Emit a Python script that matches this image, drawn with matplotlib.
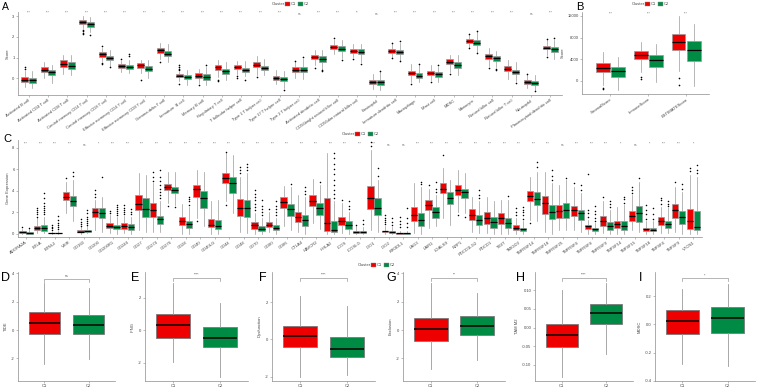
import matplotlib
matplotlib.use('Agg')
import matplotlib.pyplot as plt
from matplotlib.patches import Rectangle

plt.rcParams['font.family'] = ['Liberation Sans', 'DejaVu Sans']

# ---------------- DATA ----------------
groups = ['C1', 'C2']

a_cells = ['Activated B cell', 'Activated CD4 T cell', 'Activated CD8 T cell',
           'Central memory CD4 T cell', 'Central memory CD8 T cell',
           'Effector memeory CD4 T cell', 'Effector memeory CD8 T cell',
           'Gamma delta T cell', 'Immature  B cell', 'Memory B cell',
           'Regulatory T cell', 'T follicular helper cell', 'Type 1 T helper cell',
           'Type 17 T helper cell', 'Type 2 T helper cell', 'Activated dendritic cell',
           'CD56bright natural killer cell', 'CD56dim natural killer cell', 'Eosinophil',
           'Immature dendritic cell', 'Macrophage', 'Mast cell', 'MDSC', 'Monocyte',
           'Natural killer cell', 'Natural killer T cell', 'Neutrophil',
           'Plasmacytoid dendritic cell']
a_med1 = [-0.06, 0.42, 0.70, 2.73, 1.16, 0.59, 0.63, 1.35, 0.13, 0.13, 0.53, 0.55, 0.66, 0.03,
          0.42, 1.03, 1.51, 1.32, -0.19, 1.33, 0.24, 0.24, 0.80, 1.81, 1.06, 0.45, -0.18, 1.48]
a_q1_1 = [-0.18, 0.30, 0.55, 2.63, 1.03, 0.50, 0.51, 1.24, 0.06, 0.03, 0.42, 0.43, 0.55, -0.06,
          0.30, 0.93, 1.41, 1.22, -0.29, 1.24, 0.14, 0.14, 0.69, 1.72, 0.95, 0.34, -0.26, 1.40]
a_q3_1 = [0.06, 0.55, 0.87, 2.83, 1.27, 0.67, 0.72, 1.46, 0.21, 0.24, 0.63, 0.63, 0.79, 0.13,
          0.53, 1.14, 1.60, 1.41, -0.08, 1.43, 0.35, 0.35, 0.93, 1.89, 1.17, 0.59, -0.10, 1.57]
a_lo1 = [-0.42, 0.03, 0.22, 2.42, 0.85, 0.30, 0.26, 0.95, -0.13, -0.22, 0.06, 0.19, 0.14, -0.26,
         0.03, 0.63, 1.19, 1.03, -0.50, 1.03, -0.18, -0.10, 0.30, 1.51, 0.58, -0.02, -0.45, 1.11]
a_hi1 = [0.35, 0.77, 1.14, 3.03, 1.45, 0.83, 0.90, 1.70, 0.33, 0.47, 0.87, 0.82, 1.06, 0.42,
         0.79, 1.35, 1.86, 1.64, 0.19, 1.65, 0.67, 0.63, 1.11, 2.10, 1.46, 0.87, 0.14, 1.83]
a_fl1 = [[0.45, 0.55], [], [], [2.35, 2.28, 2.2, 2.15], [0.75, 0.68, 1.55], [0.95], [-0.06],
         [0.79], [0.40, 0.47, 0.55, 0.63, -0.26], [-0.30], [-0.06, -0.13], [0.10, 0.03], [0.06],
         [], [0.85], [0.51], [1.95], [0.95], [], [1.72, 0.98], [-0.26], [-0.18], [0.19],
         [2.15, 1.45], [0.52], [], [0.2], [1.9, 1.05]]
a_med2 = [-0.10, 0.30, 0.59, 2.60, 1.00, 0.56, 0.47, 1.19, 0.06, 0.06, 0.35, 0.42, 0.50, -0.03,
          0.42, 0.93, 1.41, 1.28, -0.19, 1.27, 0.13, 0.19, 0.66, 1.73, 0.96, 0.32, -0.21, 1.40]
a_q1_2 = [-0.21, 0.14, 0.43, 2.47, 0.87, 0.45, 0.34, 1.07, -0.03, -0.06, 0.22, 0.32, 0.39, -0.11,
          0.29, 0.80, 1.30, 1.17, -0.34, 1.17, 0.02, 0.06, 0.51, 1.62, 0.85, 0.19, -0.30, 1.28]
a_q3_2 = [0.03, 0.42, 0.77, 2.71, 1.09, 0.66, 0.59, 1.30, 0.14, 0.21, 0.47, 0.51, 0.61, 0.06,
          0.53, 1.06, 1.54, 1.40, -0.06, 1.38, 0.24, 0.30, 0.80, 1.83, 1.08, 0.42, -0.11, 1.51]
a_lo2 = [-0.45, -0.20, 0.14, 2.25, 0.62, 0.26, 0.03, 0.79, -0.30, -0.34, -0.10, 0.10, 0.14, -0.45,
         -0.02, 0.47, 1.00, 0.79, -0.55, 0.90, -0.18, -0.18, 0.14, 1.27, 0.55, -0.13, -0.55, 0.95]
a_hi2 = [0.38, 0.66, 1.15, 2.95, 1.38, 0.87, 0.87, 1.67, 0.42, 0.55, 0.79, 0.83, 0.95, 0.35,
         0.95, 1.35, 1.86, 1.64, 0.30, 1.70, 0.63, 0.55, 1.11, 2.23, 1.32, 0.79, 0.14, 1.86]
a_fl2 = [[], [], [], [2.08], [0.55], [1.10, 1.19], [], [], [], [0.63], [], [-0.06], [],
         [-0.58], [1.02], [0.42, 0.35], [0.90], [0.67], [0.38], [1.80, 0.83], [0.67], [0.63],
         [], [2.30, 1.20], [0.47, 0.39], [-0.2], [-0.62], [1.95]]
a_sig = ['***'] * 28
a_sig[14] = 'ns'; a_sig[18] = 'ns'; a_sig[26] = 'ns'; a_sig[17] = '**'
a_yticks = [0, 1, 2, 3]

b_cats = ['StromalScore', 'ImmuneScore', 'ESTIMATEScore']
b_med1 = [2314, 4750, 7186]
b_q1_1 = [1583, 3958, 5786]
b_q3_1 = [3228, 5542, 8709]
b_lo1 = [-730, 1705, 1827]
b_hi1 = [5359, 7125, 11936]
b_fl1 = [[-1340, -1520], [670, 305], [609, -792]]
b_med2 = [1827, 3837, 5664]
b_q1_2 = [792, 2619, 3654]
b_q3_2 = [2619, 4750, 7308]
b_lo2 = [-1644, -122, -914]
b_hi2 = [4446, 6882, 10414]
b_fl2 = [[], [], []]
b_sig = ['***', '***', '***']
b_yticks = [0, 4000, 8000, 12000]

c_genes = ['ADORA2A', 'BTLA', 'BTNL2', 'VSIR', 'CD160', 'CD200', 'CD200R1', 'CD244', 'CD27',
           'CD274', 'CD276', 'CD28', 'CD40', 'CD40LG', 'CD44', 'CD48', 'CD70', 'CD80', 'CD86',
           'CTLA4', 'HAVCR2', 'HHLA2', 'ICOS', 'ICOSLG', 'IDO1', 'IDO2', 'KIR3DL1', 'LAG3',
           'LAIR1', 'LGALS9', 'NRP1', 'PDCD1LG2', 'PDCD1', 'TIGIT', 'TMIGD2', 'TNFRSF14',
           'TNFRSF18', 'TNFRSF25', 'TNFRSF4', 'TNFRSF8', 'TNFRSF9', 'TNFSF14', 'TNFSF15',
           'TNFSF18', 'TNFSF4', 'TNFSF9', 'VTCN1']
c_med1 = [0.12, 0.55, 0.06, 3.45, 0.20, 2.06, 0.74, 0.74, 2.77, 2.20, 4.30, 1.23, 4.12, 0.83,
          5.14, 2.37, 0.83, 0.83, 2.98, 1.54, 3.08, 0.98, 1.23, 0.15, 3.30, 0.22, 0.06, 1.75,
          2.68, 4.20, 4.06, 1.75, 1.45, 1.45, 0.58, 3.54, 2.83, 2.15, 2.20, 0.68, 1.23, 0.89,
          1.66, 0.43, 1.14, 2.20, 1.14]
c_q1_1 = [0.03, 0.37, 0.03, 3.14, 0.12, 1.54, 0.49, 0.46, 2.20, 1.54, 4.06, 0.83, 3.45, 0.62,
          4.74, 1.66, 0.43, 0.62, 2.37, 1.05, 2.58, 0.22, 0.83, 0.06, 2.28, 0.12, 0.02, 1.23,
          2.20, 3.82, 3.60, 1.29, 0.92, 0.89, 0.37, 3.08, 1.85, 1.45, 1.66, 0.40, 0.74, 0.52,
          1.23, 0.28, 0.83, 1.45, 0.46]
c_q3_1 = [0.22, 0.74, 0.10, 3.90, 0.37, 2.37, 0.98, 0.98, 3.60, 2.90, 4.58, 1.54, 4.52, 1.35,
          5.60, 3.20, 1.05, 1.10, 3.45, 2.06, 3.60, 3.30, 1.54, 0.28, 4.43, 0.30, 0.10, 2.46,
          3.14, 4.74, 4.52, 2.34, 2.06, 1.90, 0.77, 3.97, 3.50, 2.68, 2.58, 0.83, 1.66, 1.23,
          2.12, 0.58, 1.54, 2.77, 2.28]
c_lo1 = [0.0, 0.06, 0.0, 1.90, 0.0, 0.37, 0.06, 0.05, 0.37, 0.20, 2.83, 0.0, 1.45, 0.0, 3.00,
         0.20, 0.0, 0.15, 0.74, 0.20, 0.98, 0.0, 0.05, 0.0, 0.37, 0.0, 0.0, 0.05, 0.52, 1.45,
         2.06, 0.15, 0.10, 0.0, 0.0, 1.29, 0.15, 0.37, 0.37, 0.0, 0.05, 0.0, 0.37, 0.0, 0.05,
         0.15, 0.0]
c_hi1 = [0.45, 1.45, 0.20, 4.83, 0.60, 3.14, 1.75, 1.66, 5.66, 4.68, 5.75, 2.77, 5.90, 3.00,
         7.50, 5.30, 1.97, 2.06, 4.43, 3.60, 5.05, 7.45, 2.90, 0.68, 7.75, 0.68, 0.25, 4.68,
         4.20, 6.06, 5.90, 3.45, 3.45, 3.14, 1.45, 5.30, 5.75, 4.52, 4.37, 1.30, 3.00, 2.52,
         3.60, 1.14, 2.52, 4.37, 5.45]
c_fl1 = [[0.6], [1.6, 1.8, 2.0, 2.2, 2.4], [0.35, 0.5, 0.65, 0.8], [5.2],
         [0.7, 0.9, 1.1, 1.35], [3.4, 3.7, 4.06], [1.9, 2.1], [1.8, 2.0, 2.2, 2.4, 2.68], [],
         [4.9, 5.3, 5.75], [2.6], [], [1.2], [], [2.7, 7.6], [5.6, 5.9, 6.2],
         [2.2, 2.5, 2.8, 3.1, 3.4, 3.7, 4.06], [2.3], [], [], [], [], [3.1], [0.8],
         [8.1, 8.5], [0.9, 1.1, 1.3, 1.5, 1.75], [0.6, 0.9, 1.2, 1.54], [], [4.5], [7.3],
         [1.7], [], [], [], [1.7, 2.0, 2.37], [1.0], [], [], [4.7], [1.6, 1.9, 2.2, 5.5],
         [3.4], [], [3.8, 4.1, 4.37], [1.4, 1.8, 2.2, 2.68], [2.8, 3.1, 3.3], [4.8], [5.8, 6.1]]
c_med2 = [0.09, 0.49, 0.06, 3.08, 0.25, 1.97, 0.62, 0.62, 2.34, 1.35, 4.06, 0.92, 3.30, 0.68,
          4.74, 2.37, 0.46, 0.52, 2.28, 1.29, 2.37, 0.37, 0.83, 0.12, 2.37, 0.20, 0.06, 1.29,
          2.06, 3.35, 3.85, 1.29, 1.05, 0.98, 0.43, 3.23, 2.00, 2.20, 1.90, 0.43, 0.68, 0.74,
          1.90, 0.37, 0.89, 1.54, 0.62]
c_q1_2 = [0.02, 0.28, 0.03, 2.58, 0.15, 1.45, 0.40, 0.34, 1.54, 0.92, 3.75, 0.52, 2.37, 0.43,
          3.82, 1.54, 0.22, 0.37, 1.66, 0.68, 1.75, 0.12, 0.46, 0.05, 1.75, 0.10, 0.02, 0.74,
          1.45, 2.77, 3.30, 0.83, 0.52, 0.52, 0.25, 2.68, 1.35, 1.45, 1.29, 0.28, 0.37, 0.37,
          1.08, 0.22, 0.58, 0.89, 0.37]
c_q3_2 = [0.18, 0.77, 0.10, 3.50, 0.34, 2.37, 0.83, 0.89, 3.30, 1.66, 4.37, 1.23, 4.00, 1.29,
          5.30, 3.14, 0.68, 0.77, 2.77, 1.75, 2.83, 1.14, 1.14, 0.22, 3.30, 0.28, 0.10, 1.90,
          2.46, 3.90, 4.20, 1.75, 1.54, 1.45, 0.58, 3.85, 2.68, 2.90, 2.20, 0.58, 1.10, 1.14,
          2.58, 0.52, 1.23, 2.12, 2.12]
c_lo2 = [0.0, 0.06, 0.0, 1.14, 0.05, 0.20, 0.0, 0.0, 0.20, 0.15, 2.68, 0.0, 0.68, 0.0, 1.90,
         0.06, 0.0, 0.0, 0.37, 0.0, 0.43, 0.0, 0.0, 0.0, 0.15, 0.0, 0.0, 0.0, 0.74, 0.83, 1.90,
         0.06, 0.0, 0.0, 0.0, 1.14, 0.0, 0.37, 0.20, 0.0, 0.0, 0.0, 0.20, 0.0, 0.06, 0.0, 0.0]
c_hi2 = [0.43, 1.60, 0.25, 5.00, 0.68, 3.45, 1.54, 1.60, 5.45, 3.00, 5.75, 2.52, 5.75, 3.14,
         7.30, 5.60, 1.45, 1.45, 4.37, 3.45, 4.52, 3.00, 2.06, 0.60, 5.00, 0.60, 0.30, 4.37,
         3.60, 5.00, 5.60, 3.00, 3.00, 3.14, 1.14, 5.75, 4.68, 5.00, 3.75, 0.98, 2.20, 2.68,
         4.83, 1.14, 2.37, 3.90, 5.30]
c_fl2 = [[0.55], [1.8, 2.0, 2.2, 2.4, 2.6, 2.9, 3.3, 3.75], [0.4, 0.6, 0.8, 1.0, 1.3, 1.66],
         [5.4, 5.75], [0.8, 1.0, 1.2, 1.4, 1.6, 1.9, 2.2], [5.3], [1.7, 1.9, 2.1, 2.3, 2.5, 2.68],
         [1.8, 2.0, 2.3], [], [3.3, 3.6, 3.9, 4.2, 4.5, 4.9, 5.3, 5.9], [2.5], [2.7, 3.0, 3.2, 3.45],
         [], [], [], [5.9, 6.2, 6.5], [1.7, 2.0, 2.3, 2.6, 3.14], [1.7, 2.0, 2.3, 2.6, 3.0], [4.6],
         [3.7, 4.0, 4.37], [4.83], [3.3, 3.7, 4.1, 4.5, 5.0, 5.5, 6.0, 6.5, 7.0, 7.45],
         [2.3, 2.6, 3.0], [0.9, 1.3], [5.4, 6.06], [0.85, 1.1, 1.45], [0.6, 1.0, 1.5, 2.37],
         [4.6, 4.83], [3.9, 4.2, 4.8], [], [1.6], [3.3, 3.6, 4.06], [], [3.5],
         [1.4, 1.7, 2.0, 2.2, 2.46], [6.2, 6.7], [5.0, 5.4, 5.9], [5.2], [4.1, 4.5],
         [1.2, 1.5, 1.8, 2.1, 2.6], [2.5, 2.8, 3.0], [2.9, 3.2, 3.45], [5.2], [1.4, 1.8, 2.37],
         [2.6, 2.8, 3.0], [4.2, 4.6], [5.6, 5.9, 6.37]]
c_sig = ['***'] * 47
for _i, _s in [(4, 'ns'), (5, '*'), (25, 'ns'), (26, 'ns'), (37, 'ns'), (41, '*'),
               (42, 'ns'), (43, '*'), (46, '*')]:
    c_sig[_i] = _s
c_yticks = [0, 2, 4, 6, 8]

# bottom panels: TIDE related scores
d_names = ['TIDE', 'IFNG', 'Dysfunction', 'Exclusion', 'TAM M2', 'MDSC']
d_letters = ['D', 'E', 'F', 'G', 'H', 'I']
d_med1 = [0.50, 0.31, 0.16, 0.07, -0.021, 0.021]
d_q1_1 = [-0.27, -0.45, -0.41, -0.78, -0.051, -0.071]
d_q3_1 = [1.30, 1.03, 0.70, 0.85, 0.009, 0.101]
d_lo1 = [-2.40, -1.98, -2.00, -2.74, -0.131, -0.280]
d_hi1 = [3.30, 2.90, 2.32, 3.29, 0.100, 0.249]
d_med2 = [0.35, -0.50, -0.54, 0.28, 0.038, 0.042]
d_q1_2 = [-0.25, -1.05, -0.97, -0.33, 0.009, -0.061]
d_q3_2 = [1.05, 0.23, 0.14, 0.97, 0.064, 0.120]
d_lo2 = [-2.05, -2.87, -1.92, -2.13, -0.071, -0.299]
d_hi2 = [3.00, 1.71, 1.78, 2.62, 0.119, 0.289]
d_sig = ['ns', '****', '****', '**', '****', '*']
d_yticks = [[-2, 0, 2, 4], [-2, 0, 2], [-2, 0, 2], [-2, 0, 2, 4],
            [-0.10, -0.05, 0.00, 0.05, 0.10], [-0.4, -0.2, 0.0, 0.2]]
d_yticklabels = [['-2', '0', '2', '4'], ['-2', '0', '2'], ['-2', '0', '2'],
                 ['-2', '0', '2', '4'], ['-0.10', '-0.05', '0.00', '0.05', '0.10'],
                 ['-0.4', '-0.2', '0.0', '0.2']]

# ---------------- LAYOUT / STYLE ----------------
W, H = 759, 388
fig = plt.figure(figsize=(W / 100, H / 100), dpi=100)
RED = '#EE0000'
GREEN = '#008B45'
EDGE = '#9a9a9a'
AXC = '#8c8c8c'
TXT = '#444444'


def add_ax(l, r, t, b):
    return fig.add_axes([l / W, 1 - b / H, (r - l) / W, (b - t) / H])


def style(ax):
    for s in ['top', 'right']:
        ax.spines[s].set_visible(False)
    for s in ['left', 'bottom']:
        ax.spines[s].set_color(AXC)
        ax.spines[s].set_linewidth(0.5)
    ax.tick_params(length=1.5, width=0.4, color=AXC, labelsize=3, pad=1, labelcolor=TXT)
    ax.patch.set_alpha(0)


def make_stats(med, q1, q3, lo, hi, fl=None):
    out = []
    for i in range(len(med)):
        out.append(dict(med=med[i], q1=q1[i], q3=q3[i], whislo=lo[i], whishi=hi[i],
                        fliers=(fl[i] if fl is not None else [])))
    return out


def draw(ax, st, pos, color, width, lw=0.5, ms=1.2, edge=EDGE):
    ax.bxp(st, positions=pos, widths=width, patch_artist=True, showcaps=False,
           boxprops=dict(facecolor=color, edgecolor=edge, linewidth=lw),
           medianprops=dict(color='black', linewidth=lw * 1.8),
           whiskerprops=dict(color=EDGE, linewidth=lw),
           flierprops=dict(marker='o', markersize=ms, markerfacecolor='black',
                           markeredgecolor='none'),
           manage_ticks=False)


def legend(x, y, fs=3.0):
    # x, y in pixels (left of "Cluster", vertical centre)
    fig.text(x / W, 1 - y / H, 'Cluster', fontsize=fs, color=TXT, va='center', ha='left')
    sq = 4.5
    xs = x + 13
    for col, lab in [(RED, groups[0]), (GREEN, groups[1])]:
        fig.patches.append(Rectangle((xs / W, 1 - (y + sq / 2) / H), sq / W, sq / H,
                                     transform=fig.transFigure, facecolor=col,
                                     edgecolor='#888888', linewidth=0.3))
        fig.text((xs + sq + 1.5) / W, 1 - y / H, lab, fontsize=fs, color=TXT,
                 va='center', ha='left')
        xs += 13


def letter(x, y, s, fs):
    fig.text(x / W, 1 - y / H, s, fontsize=fs, va='baseline', ha='left', color='black')


# ---------------- PANEL A ----------------
axA = add_ax(18, 562, 12, 95)
style(axA)
n = len(a_cells)
pos = list(range(n))
draw(axA, make_stats(a_med1, a_q1_1, a_q3_1, a_lo1, a_hi1, a_fl1), [p - 0.2 for p in pos], RED, 0.36)
draw(axA, make_stats(a_med2, a_q1_2, a_q3_2, a_lo2, a_hi2, a_fl2), [p + 0.2 for p in pos], GREEN, 0.36)
axA.set_xlim(-0.55, n - 0.4)
axA.set_ylim(-0.8, 3.2)
axA.set_yticks(a_yticks)
axA.set_xticks(pos)
axA.set_xticklabels(a_cells, rotation=35, ha='right', rotation_mode='anchor', fontsize=3)
axA.set_ylabel('Score', fontsize=3, color=TXT, labelpad=2)
for i, s in enumerate(a_sig):
    axA.text(i, 3.08 if s != 'ns' else 3.0, s, fontsize=2.3, ha='center', va='bottom', color='#666666')
letter(2, 10.5, 'A', 7.5)
legend(272, 4)

# ---------------- PANEL B ----------------
axB = add_ax(582, 709, 12, 94)
style(axB)
pb = list(range(len(b_cats)))
draw(axB, make_stats(b_med1, b_q1_1, b_q3_1, b_lo1, b_hi1, b_fl1), [p - 0.2 for p in pb], RED, 0.36)
draw(axB, make_stats(b_med2, b_q1_2, b_q3_2, b_lo2, b_hi2, b_fl2), [p + 0.2 for p in pb], GREEN, 0.36)
axB.set_xlim(-0.75, 2.6)
axB.set_ylim(-2400, 12700)
axB.set_yticks(b_yticks)
axB.set_xticks(pb)
axB.set_xticklabels(b_cats, rotation=35, ha='right', rotation_mode='anchor', fontsize=3)
axB.set_ylabel('Score', fontsize=3, color=TXT, labelpad=2)
for i, s in enumerate(b_sig):
    axB.text(i, 12100, s, fontsize=2.3, ha='center', va='bottom', color='#666666')
letter(576, 10, 'B', 8)
legend(632, 4)

# ---------------- PANEL C ----------------
axC = add_ax(18, 702, 140, 237)
style(axC)
pc = list(range(len(c_genes)))
draw(axC, make_stats(c_med1, c_q1_1, c_q3_1, c_lo1, c_hi1, c_fl1), [p - 0.24 for p in pc], RED, 0.44, ms=1.1)
draw(axC, make_stats(c_med2, c_q1_2, c_q3_2, c_lo2, c_hi2, c_fl2), [p + 0.24 for p in pc], GREEN, 0.44, ms=1.1)
axC.set_xlim(-0.55, len(c_genes) - 0.4)
axC.set_ylim(-0.3, 8.7)
axC.set_yticks(c_yticks)
axC.set_xticks(pc)
axC.set_xticklabels(c_genes, rotation=35, ha='right', rotation_mode='anchor', fontsize=3)
axC.set_ylabel('Gene Expression', fontsize=3, color=TXT, labelpad=2)
for i, s in enumerate(c_sig):
    axC.text(i, 8.2 if s != 'ns' else 8.05, s, fontsize=2.3, ha='center', va='bottom', color='#666666')
letter(3, 142.5, 'C', 8)
legend(342, 134)

# ---------------- PANELS D-I ----------------
d_box = [(18, 115), (145, 248), (272, 375), (403, 505), (535, 633), (655, 755)]
d_ylim = [(-3.6, 4.1), (-3.13, 3.6), (-2.24, 3.62), (-3.6, 4.1), (-0.143, 0.149), (-0.402, 0.371)]
d_brk = [3.62, 3.23, 3.3, 3.68, 0.133, 0.328]
d_letter_x = [1, 131, 259, 386, 516, 639]
for k in range(6):
    l, r = d_box[k]
    ax = add_ax(l, r, 272, 381)
    style(ax)
    s1 = make_stats([d_med1[k]], [d_q1_1[k]], [d_q3_1[k]], [d_lo1[k]], [d_hi1[k]])
    s2 = make_stats([d_med2[k]], [d_q1_2[k]], [d_q3_2[k]], [d_lo2[k]], [d_hi2[k]])
    draw(ax, s1, [1], RED, 0.72, lw=0.6, edge='#7a7a7a')
    draw(ax, s2, [2], GREEN, 0.72, lw=0.6, edge='#7a7a7a')
    ax.set_xlim(0.4, 2.6)
    ax.set_ylim(*d_ylim[k])
    ax.set_yticks(d_yticks[k])
    ax.set_yticklabels(d_yticklabels[k])
    ax.set_xticks([1, 2])
    ax.set_xticklabels(groups)
    ax.set_ylabel(d_names[k], fontsize=3, color=TXT, labelpad=2)
    yb = d_brk[k]
    span = d_ylim[k][1] - d_ylim[k][0]
    tick = span * 0.025
    ax.plot([1, 1, 2, 2], [yb - tick, yb, yb, yb - tick], color='#999999', lw=0.5, clip_on=False)
    ax.text(1.5, yb + span * 0.008, d_sig[k], fontsize=2.5, ha='center', va='bottom', color='#555555')
    letter(d_letter_x[k], 281, d_letters[k], 9)
legend(358, 265)

fig.savefig('out.png', dpi=100)
